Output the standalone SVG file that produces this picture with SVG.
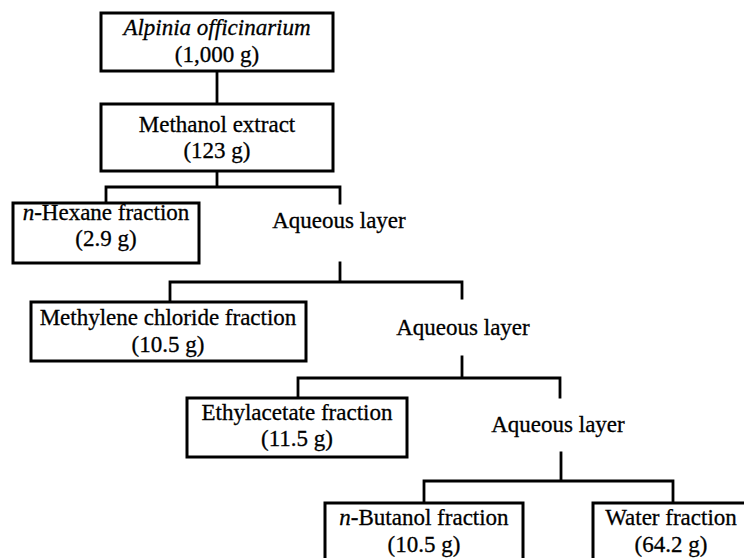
<svg xmlns="http://www.w3.org/2000/svg" width="744" height="558" viewBox="0 0 744 558">
<style>
.box{fill:#fff;stroke:#000;stroke-width:3}
.ln{fill:none;stroke:#000;stroke-width:2.8;stroke-linecap:square}
text{font-family:'Liberation Serif',Tinos,'Times New Roman',Times,serif;font-size:23px;fill:#000;stroke:#000;stroke-width:0.3;text-anchor:middle}
.it{font-style:italic}
</style>
<rect width="744" height="558" fill="#fff"/>
<g id="connectors">
<path class="ln" d="M217 71V104"/>
<path class="ln" d="M217 171V187M106 203V187H340V203"/>
<path class="ln" d="M340 263V282M170 302V282H462V298"/>
<path class="ln" d="M462 357V378M298 398V378H560V397"/>
<path class="ln" d="M561 453V481M424 503V481H673V503"/>
</g>
<g id="n1">
<rect class="box" x="101" y="13" width="232" height="58"/>
<text x="217" y="35" class="it">Alpinia officinarium</text>
<text x="217" y="62">(1,000 g)</text>
</g>
<g id="n2">
<rect class="box" x="101" y="104" width="232" height="67"/>
<text x="217" y="132">Methanol extract</text>
<text x="217" y="158">(123 g)</text>
</g>
<g id="n3">
<rect class="box" x="13" y="203" width="186" height="60"/>
<text x="106" y="220"><tspan class="it">n</tspan>-Hexane fraction</text>
<text x="106" y="246">(2.9 g)</text>
</g>
<g id="a1">
<text x="339" y="228">Aqueous layer</text>
</g>
<g id="n4">
<rect class="box" x="31" y="302" width="275" height="59"/>
<text x="168" y="325">Methylene chloride fraction</text>
<text x="168" y="352">(10.5 g)</text>
</g>
<g id="a2">
<text x="463" y="335">Aqueous layer</text>
</g>
<g id="n5">
<rect class="box" x="187" y="398" width="220" height="59"/>
<text x="297" y="420">Ethylacetate fraction</text>
<text x="297" y="446">(11.5 g)</text>
</g>
<g id="a3">
<text x="558" y="432">Aqueous layer</text>
</g>
<g id="n6">
<rect class="box" x="325" y="503" width="198" height="70"/>
<text x="424" y="525"><tspan class="it">n</tspan>-Butanol fraction</text>
<text x="424" y="552">(10.5 g)</text>
</g>
<g id="n7">
<rect class="box" x="593" y="503" width="160" height="70"/>
<text x="671" y="525">Water fraction</text>
<text x="671" y="552">(64.2 g)</text>
</g>
</svg>
